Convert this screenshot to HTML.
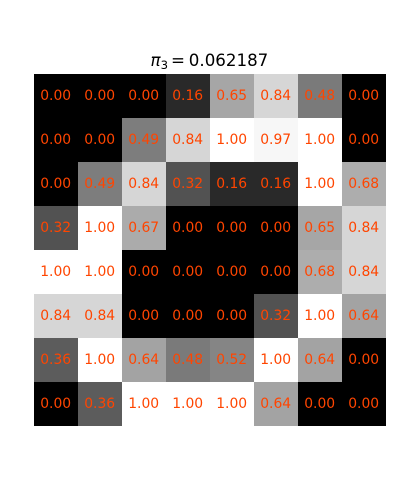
<!DOCTYPE html>
<html>
<head>
<meta charset="utf-8">
<style>
html,body{margin:0;padding:0;background:#fff;width:400px;height:500px;overflow:hidden}
svg{display:block}
text{font-family:"DejaVu Sans",sans-serif}
</style>
</head>
<body>
<svg id="chart" xmlns="http://www.w3.org/2000/svg" width="400" height="500" viewBox="0 0 400 500">
  <rect x="0" y="0" width="400" height="500" fill="#ffffff"/>
  <g fill="#000000">
    <text x="150.5" y="66" font-size="16.67" font-style="italic">π</text>
    <text x="160.6" y="69" font-size="11.67">3</text>
    <text x="171" y="66" font-size="16.67">=</text>
    <text x="188.8" y="66" font-size="16.67">0.062187</text>
  </g>
  <g id="cells"></g>
  <g id="labels"></g>
</svg>
<script>
const rowValues = [
  [0.00, 0.00, 0.00, 0.16, 0.65, 0.84, 0.48, 0.00],
  [0.00, 0.00, 0.49, 0.84, 1.00, 0.97, 1.00, 0.00],
  [0.00, 0.49, 0.84, 0.32, 0.16, 0.16, 1.00, 0.68],
  [0.32, 1.00, 0.67, 0.00, 0.00, 0.00, 0.65, 0.84],
  [1.00, 1.00, 0.00, 0.00, 0.00, 0.00, 0.68, 0.84],
  [0.84, 0.84, 0.00, 0.00, 0.00, 0.32, 1.00, 0.64],
  [0.36, 1.00, 0.64, 0.48, 0.52, 1.00, 0.64, 0.00],
  [0.00, 0.36, 1.00, 1.00, 1.00, 0.64, 0.00, 0.00]
];

const SVG_NS = 'http://www.w3.org/2000/svg';
const plotLeft = 34, plotTop = 74, plotSize = 352;
const cellSize = plotSize / rowValues.length;
const xScale = col => plotLeft + col * cellSize;
const yScale = row => plotTop + row * cellSize;
const grayScale = v => {
  const g = Math.round(Math.max(0, Math.min(1, v)) * 255);
  return 'rgb(' + g + ',' + g + ',' + g + ')';
};

const cellLayer = document.getElementById('cells');
const labelLayer = document.getElementById('labels');

rowValues.forEach((row, r) => {
  row.forEach((value, c) => {
    const rect = document.createElementNS(SVG_NS, 'rect');
    
    
    rect.setAttribute('x', xScale(c));
    rect.setAttribute('y', yScale(r));
    rect.setAttribute('width', cellSize);
    rect.setAttribute('height', cellSize);
    rect.setAttribute('fill', grayScale(value));
    rect.setAttribute('shape-rendering', 'crispEdges');
    cellLayer.appendChild(rect);

    const label = document.createElementNS(SVG_NS, 'text');
    
    
    label.setAttribute('x', xScale(c) + cellSize / 2 - 0.3);
    label.setAttribute('y', yScale(r) + cellSize / 2 + 4);
    label.setAttribute('text-anchor', 'middle');
    label.setAttribute('font-size', '13.89');
    label.setAttribute('fill', '#ff4500');
    label.textContent = value.toFixed(2);
    labelLayer.appendChild(label);
  });
});
</script>
</body>
</html>
